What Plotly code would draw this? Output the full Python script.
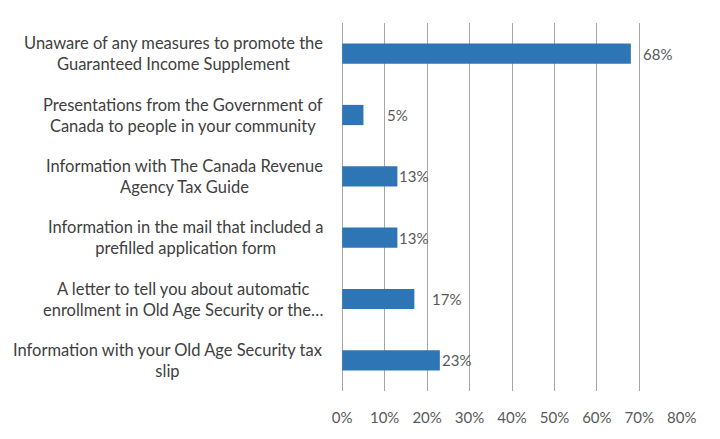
import plotly.graph_objects as go

categories = [
    "Unaware of any measures to promote the<br>Guaranteed Income Supplement",
    "Presentations from the Government of<br>Canada to people in your community",
    "Information with The Canada Revenue<br>Agency Tax Guide",
    "Information in the mail that included a<br>prefilled application form",
    "A letter to tell you about automatic<br>enrollment in Old Age Security or the…",
    "Information with your Old Age Security tax<br>slip",
]
values = [68, 5, 13, 13, 17, 23]
tick_vals = [0, 10, 20, 30, 40, 50, 60, 70, 80]
tick_text = ["0%", "10%", "20%", "30%", "40%", "50%", "60%", "70%", "80%"]
# horizontal nudges of the value labels (px), as placed in the original
label_shift = [10, 22, 0, 0, 16, 0]

FONT = "Lato, 'Open Sans', sans-serif"

fig = go.Figure()
fig.add_trace(go.Bar(
    x=values,
    y=list(range(len(categories))),
    orientation="h",
    marker=dict(color="#2e75b6", line=dict(width=0)),
    width=0.33,
    cliponaxis=False,
    hoverinfo="x+y",
))

for i, (c, v, s) in enumerate(zip(categories, values, label_shift)):
    fig.add_annotation(
        x=0, xref="paper", xanchor="right", xshift=-17,
        y=i, yref="y", yanchor="middle",
        text=c, showarrow=False, align="center",
        font=dict(family=FONT, size=16.5, color="#404040"),
    )
    fig.add_annotation(
        x=v, xref="x", xanchor="left", xshift=s,
        y=i, yref="y", yanchor="middle",
        text=f"{v}%", showarrow=False,
        font=dict(family=FONT, size=15, color="#595959"),
    )

# the page body adds an 8px offset, so the figure is 712x431 and margins are compensated
fig.update_layout(
    width=712, height=431,
    margin=dict(l=334, r=38, t=15, b=48),
    paper_bgcolor="white", plot_bgcolor="white",
    showlegend=False,
    xaxis=dict(
        range=[-0.05, 80.05], tickvals=tick_vals, ticktext=tick_text,
        showgrid=True, gridcolor="#a6a6a6", gridwidth=1.3,
        zeroline=True, zerolinecolor="#a6a6a6", zerolinewidth=1.3,
        showline=False,
        ticks="", ticklabelstandoff=16,
        tickfont=dict(family=FONT, size=15, color="#595959"),
        fixedrange=True,
    ),
    yaxis=dict(
        range=[5.5, -0.5], showticklabels=False, showgrid=False,
        zeroline=False, showline=False, ticks="", fixedrange=True,
    ),
)

fig.write_html("out.html")
